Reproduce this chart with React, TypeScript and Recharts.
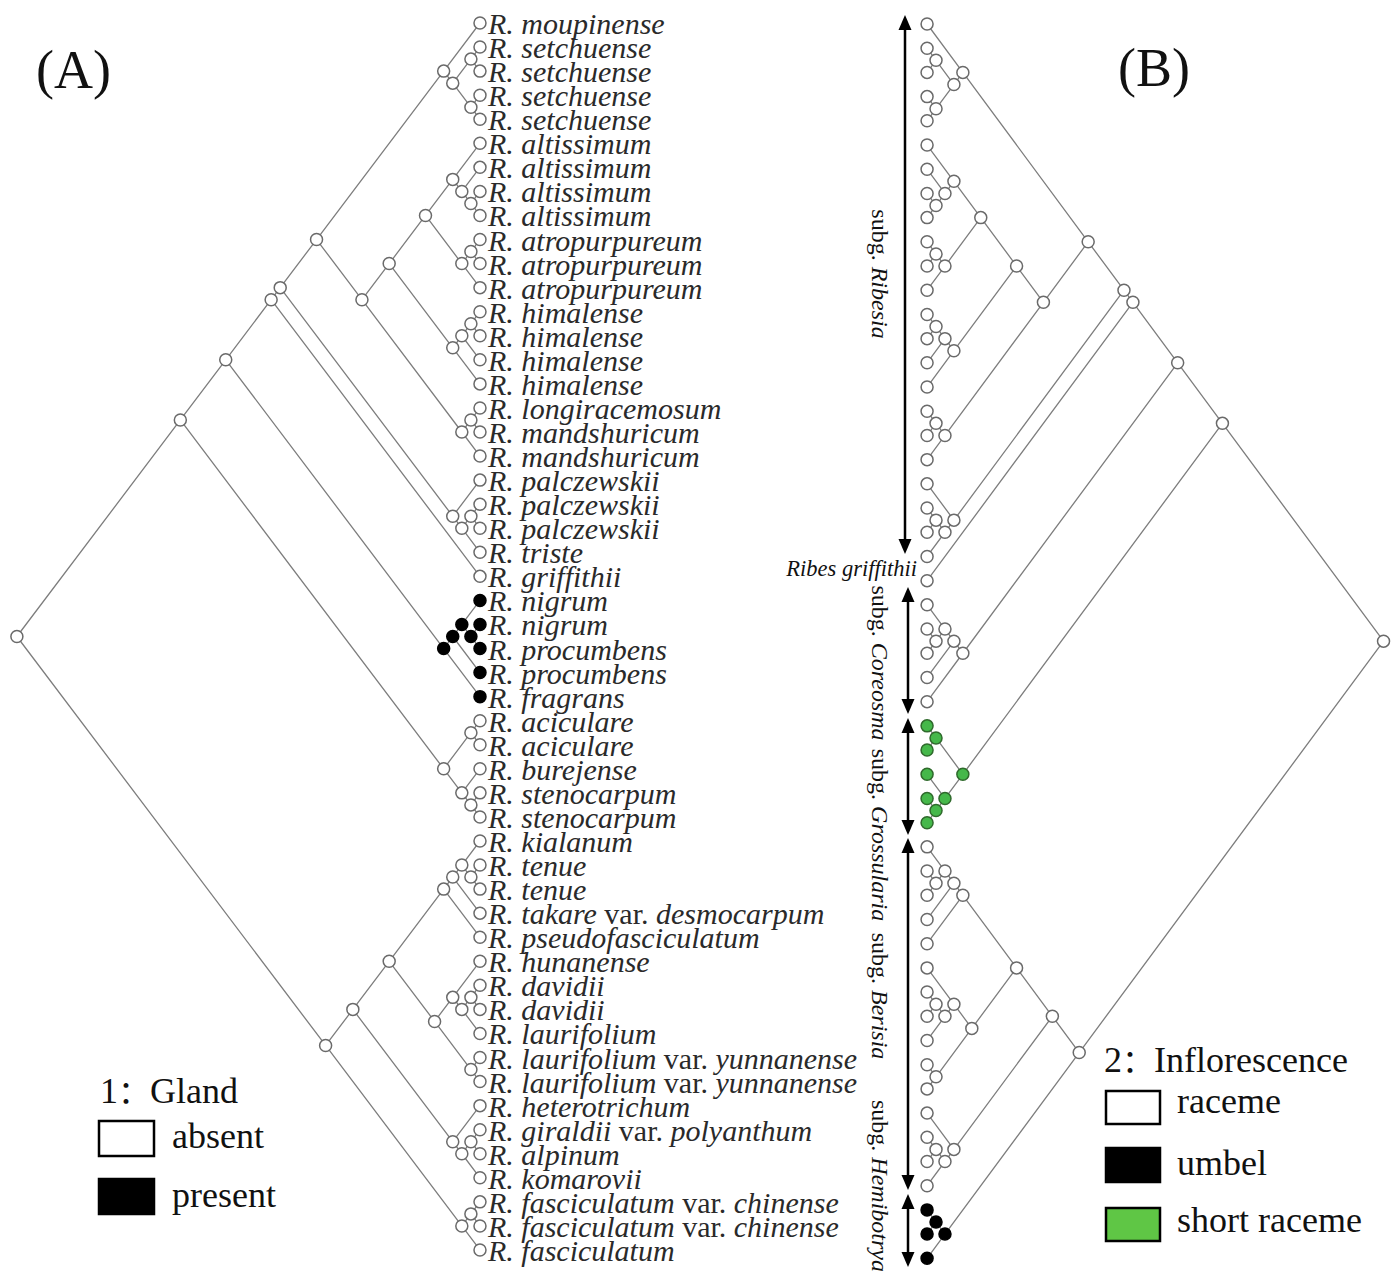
import React from 'react';
import { ComposedChart, Line, Scatter, XAxis, YAxis } from 'recharts';

type Clade = number | Clade[];

const TIP_NAMES = [
  'R. moupinense',
  'R. setchuense', 'R. setchuense', 'R. setchuense', 'R. setchuense',
  'R. altissimum', 'R. altissimum', 'R. altissimum', 'R. altissimum',
  'R. atropurpureum', 'R. atropurpureum', 'R. atropurpureum',
  'R. himalense', 'R. himalense', 'R. himalense', 'R. himalense',
  'R. longiracemosum',
  'R. mandshuricum', 'R. mandshuricum',
  'R. palczewskii', 'R. palczewskii', 'R. palczewskii',
  'R. triste',
  'R. griffithii',
  'R. nigrum', 'R. nigrum',
  'R. procumbens', 'R. procumbens',
  'R. fragrans',
  'R. aciculare', 'R. aciculare',
  'R. burejense',
  'R. stenocarpum', 'R. stenocarpum',
  'R. kialanum',
  'R. tenue', 'R. tenue',
  'R. takare var. desmocarpum',
  'R. pseudofasciculatum',
  'R. hunanense',
  'R. davidii', 'R. davidii',
  'R. laurifolium',
  'R. laurifolium var. yunnanense', 'R. laurifolium var. yunnanense',
  'R. heterotrichum',
  'R. giraldii var. polyanthum',
  'R. alpinum',
  'R. komarovii',
  'R. fasciculatum var. chinense', 'R. fasciculatum var. chinense',
  'R. fasciculatum',
];

// clades, written with tip indices
const RIB_0_4: Clade = [0, [[1, 2], [3, 4]]];
const RIB_5_11: Clade = [[5, [6, [7, 8]]], [[9, 10], 11]];
const RIB_5_15: Clade = [RIB_5_11, [[[12, 13], 14], 15]];
const RIB_5_18: Clade = [RIB_5_15, [[16, 17], 18]];
const RIB_19_22: Clade = [19, [[20, 21], 22]];
const RIBESIA: Clade = [[RIB_0_4, RIB_5_18], RIB_19_22];
const COREOSMA: Clade = [[[24, [25, 26]], 27], 28];
const GROSSULARIA: Clade = [[29, 30], [31, [32, 33]]];
const UPPER: Clade = [[[RIBESIA, 23], COREOSMA], GROSSULARIA];
const BER_34_38: Clade = [[[34, [35, 36]], 37], 38];
const BER_39_44: Clade = [[39, [[40, 41], 42]], [43, 44]];
const BER_45_48: Clade = [45, [[46, 47], 48]];
const BERISIA: Clade = [[BER_34_38, BER_39_44], BER_45_48];
const HEMIBOTRYA: Clade = [[49, 50], 51];
const TREE: Clade = [UPPER, [BERISIA, HEMIBOTRYA]];

// character states by tip
const GLAND_PRESENT = [24, 25, 26, 27, 28];
const INFL_UMBEL = [49, 50, 51];
const INFL_SHORT = [29, 30, 31, 32, 33];

const SUBGENERA = [
  { name: 'Ribesia', from: 15, to: 554, mid: 274 },
  { name: 'Coreosma', from: 587, to: 714, mid: 663 },
  { name: 'Grossularia', from: 718, to: 835, mid: 835 },
  { name: 'Berisia', from: 838, to: 1190, mid: 996 },
  { name: 'Hemibotrya', from: 1194, to: 1267, mid: 1186 },
];

interface TreeNode {
  x: number;
  y: number;
  tips: number[];
}

interface EdgePt {
  x: number;
  y: number | null;
}

function layout(clade: Clade, nodes: TreeNode[], edges: EdgePt[]): TreeNode {
  if (typeof clade === 'number') {
    const tip = { x: 0, y: clade, tips: [clade] };
    nodes.push(tip);
    return tip;
  }
  const kids = clade.map((c) => layout(c, nodes, edges));
  const tips = kids.flatMap((k) => k.tips);
  const top = Math.min(...tips);
  const bottom = Math.max(...tips);
  const node = { x: (bottom - top) / 2, y: (top + bottom) / 2, tips };
  nodes.push(node);
  kids.forEach((k) => {
    edges.push({ x: node.x, y: node.y }, { x: k.x, y: k.y }, { x: k.x, y: null });
  });
  return node;
}

const treeNodes: TreeNode[] = [];
const treeEdges: EdgePt[] = [];
layout(TREE, treeNodes, treeEdges);

const allIn = (tips: number[], set: number[]) => tips.every((t) => set.includes(t));

const nodesA = treeNodes.map((n) => ({
  ...n,
  fill: allIn(n.tips, GLAND_PRESENT) ? '#000' : '#fff',
  stroke: allIn(n.tips, GLAND_PRESENT) ? '#000' : '#6a6a6a',
}));

const nodesB = treeNodes.map((n) => {
  if (allIn(n.tips, INFL_UMBEL)) return { ...n, fill: '#000', stroke: '#000' };
  if (allIn(n.tips, INFL_SHORT)) return { ...n, fill: '#45b84a', stroke: '#2f6a2c' };
  return { ...n, fill: '#fff', stroke: '#6a6a6a' };
});

const tipLabels = TIP_NAMES.map((name, i) => ({ x: 0, y: i, name }));

const SERIF = "'Liberation Serif', 'Times New Roman', serif";
const CJK = "'Noto Sans CJK SC', sans-serif";
const LINE_GREY = '#7d7d7d';

const renderNode = (props: any) => {
  const { cx, cy, payload } = props;
  return <circle cx={cx} cy={cy} r={6} fill={payload.fill} stroke={payload.stroke} strokeWidth={1.5} />;
};

const renderLabel = (props: any) => {
  const { cx, cy, payload } = props;
  const [head, variety] = payload.name.split(' var. ');
  return (
    <text
      x={cx + 8}
      y={cy + 11}
      fontFamily={SERIF}
      fontSize={30}
      fontStyle="italic"
      fill="#2a2a2a"
      style={{ whiteSpace: 'pre' }}
    >
      <tspan>{head}</tspan>
      {variety && <tspan fontStyle="normal">{' var. '}</tspan>}
      {variety && <tspan>{variety}</tspan>}
    </text>
  );
};

const Arrow: React.FC<{ x: number; y1: number; y2: number }> = ({ x, y1, y2 }) => (
  <g>
    <line x1={x} y1={y1 + 10} x2={x} y2={y2 - 10} stroke="#000" strokeWidth={2.5} />
    <polygon points={`${x},${y1} ${x - 6.5},${y1 + 15} ${x + 6.5},${y1 + 15}`} fill="#000" />
    <polygon points={`${x},${y2} ${x - 6.5},${y2 - 15} ${x + 6.5},${y2 - 15}`} fill="#000" />
  </g>
);

const App: React.FC = () => {
  return (
    <div style={{ position: 'absolute', left: 0, top: 0, width: 1400, height: 1275, background: '#fff' }}>
      <ComposedChart width={1400} height={1275} margin={{ top: 0, right: 0, bottom: 0, left: 0 }}>
        <XAxis xAxisId="a" dataKey="x" type="number" domain={[-50.66, 26.43]} reversed allowDataOverflow hide />
        <XAxis xAxisId="b" dataKey="x" type="number" domain={[-51.79, 26.42]} allowDataOverflow hide />
        <YAxis yAxisId="a" dataKey="y" type="number" domain={[-0.956, 52.04]} reversed allowDataOverflow hide />
        <YAxis yAxisId="b" dataKey="y" type="number" domain={[-0.992, 51.69]} reversed allowDataOverflow hide />

        <Line
          xAxisId="a"
          yAxisId="a"
          data={treeEdges}
          dataKey="y"
          type="linear"
          stroke={LINE_GREY}
          strokeWidth={1.3}
          dot={false}
          activeDot={false}
          connectNulls={false}
          isAnimationActive={false}
        />
        <Line
          xAxisId="b"
          yAxisId="b"
          data={treeEdges}
          dataKey="y"
          type="linear"
          stroke={LINE_GREY}
          strokeWidth={1.3}
          dot={false}
          activeDot={false}
          connectNulls={false}
          isAnimationActive={false}
        />
        <Scatter xAxisId="a" yAxisId="a" data={nodesA} shape={renderNode} isAnimationActive={false} />
        <Scatter xAxisId="b" yAxisId="b" data={nodesB} shape={renderNode} isAnimationActive={false} />
        <Scatter xAxisId="a" yAxisId="a" data={tipLabels} shape={renderLabel} isAnimationActive={false} />
      </ComposedChart>

      <svg width={1400} height={1275} style={{ position: 'absolute', left: 0, top: 0, pointerEvents: 'none' }}>
        <text x={36} y={88} fontFamily={SERIF} fontSize={54} fill="#111">(A)</text>
        <text x={1118} y={86} fontFamily={SERIF} fontSize={54} fill="#111">(B)</text>

        {SUBGENERA.map((s) => (
          <g key={s.name}>
            <Arrow x={s.name === 'Ribesia' ? 905 : 908} y1={s.from} y2={s.to} />
            <text
              transform={`translate(872, ${s.mid}) rotate(90)`}
              textAnchor="middle"
              fontFamily={SERIF}
              fontSize={24}
              fill="#111"
              style={{ whiteSpace: 'pre' }}
            >
              <tspan>{'subg. '}</tspan>
              <tspan fontStyle="italic">{s.name}</tspan>
            </text>
          </g>
        ))}
        <text x={917} y={576} textAnchor="end" fontFamily={SERIF} fontSize={22.5} fontStyle="italic" fill="#111">
          Ribes griffithii
        </text>

        <g fontFamily={SERIF} fontSize={36} fill="#111" style={{ whiteSpace: 'pre' }}>
          <text x={100} y={1103}>
            <tspan>1</tspan>
            <tspan fontFamily={CJK} fontSize={32}>：</tspan>
            <tspan>Gland</tspan>
          </text>
          <rect x={99} y={1121} width={55} height={35} fill="#fff" stroke="#000" strokeWidth={2.5} />
          <text x={172} y={1148}>absent</text>
          <rect x={99} y={1179} width={55} height={35} fill="#000" stroke="#000" strokeWidth={2.5} />
          <text x={172} y={1207}>present</text>

          <text x={1104} y={1072}>
            <tspan>2</tspan>
            <tspan fontFamily={CJK} fontSize={32}>：</tspan>
            <tspan>Inflorescence</tspan>
          </text>
          <rect x={1106} y={1091} width={54} height={33} fill="#fff" stroke="#000" strokeWidth={2.5} />
          <text x={1177} y={1113}>raceme</text>
          <rect x={1106} y={1148} width={54} height={34} fill="#000" stroke="#000" strokeWidth={2.5} />
          <text x={1177} y={1175}>umbel</text>
          <rect x={1106} y={1208} width={54} height={33} fill="#5fc645" stroke="#000" strokeWidth={2.5} />
          <text x={1177} y={1232}>short raceme</text>
        </g>
      </svg>
    </div>
  );
};

export default App;
